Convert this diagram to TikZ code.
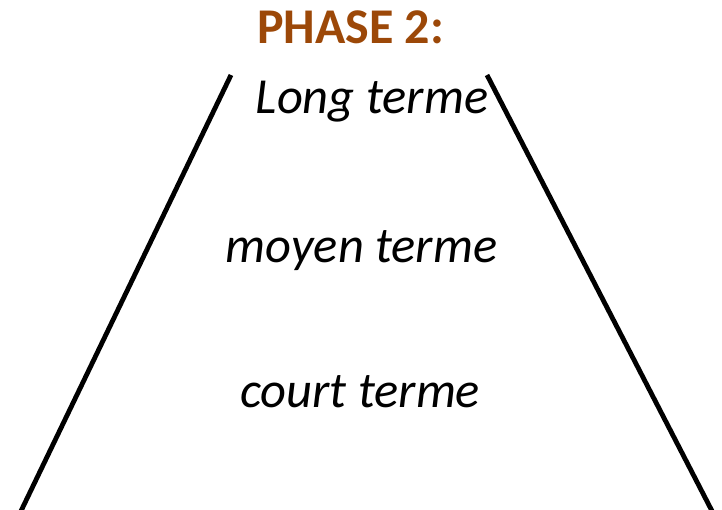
\documentclass[tikz,border=0pt]{standalone}
\usepackage{fontspec}
\setmainfont{Carlito}
\definecolor{titlebrown}{RGB}{156,72,8}
\tikzset{
  lbl/.style={font=\fontsize{50.5}{50.5}\selectfont\itshape, anchor=base, inner sep=0pt},
  ttl/.style={font=\fontsize{50}{50}\selectfont\bfseries, text=titlebrown, anchor=base, inner sep=0pt},
  side/.style={line width=4.8pt}
}
\begin{document}
\begin{tikzpicture}[x=1pt,y=-1pt]
\useasboundingbox (0,0) rectangle (722,509);
\node[ttl] (title) at (350.5,43) {PHASE 2:};
\node[lbl] (long) at (372,113) {Long terme};
\node[lbl] (moyen) at (361.5,262) {moyen terme};
\node[lbl] (court) at (360,407) {court terme};
\coordinate (lt) at (231,75);
\coordinate (lb) at (21,511);
\coordinate (rt) at (487,75);
\coordinate (rb) at (712,511);
\draw[side] (lt) -- (lb);
\draw[side] (rt) -- (rb);
\end{tikzpicture}
\end{document}
